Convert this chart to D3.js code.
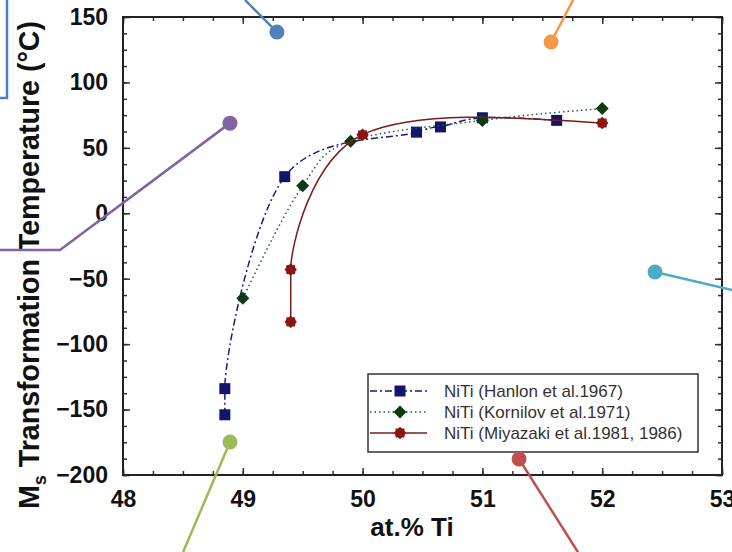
<!DOCTYPE html>
<html>
<head>
<meta charset="utf-8">
<script src="https://cdn.jsdelivr.net/npm/d3@7"></script>
<style>
  body { margin: 0; background: #fff; }
  svg { display: block; font-family: "Liberation Sans", Arial, sans-serif; }
</style>
</head>
<body>
<div class="chart-area"></div>
<script>
// data: at.% Ti vs Ms temperature (°C)
var hanlonX = [48.85, 48.85, 49.35, 50.45, 50.65, 51.0, 51.62],
    hanlonY = [-154, -134, 28, 62, 66, 73, 71];
var kornilovX = [49.0, 49.5, 49.9, 51.0, 52.0],
    kornilovY = [-65, 21, 55, 71, 80];
var miyazakiX = [49.4, 49.4, 50.0, 52.0],
    miyazakiY = [-83, -43, 60, 69];

var seriesNames = ["NiTi (Hanlon et al.1967)", "NiTi (Kornilov et al.1971)", "NiTi (Miyazaki et al.1981, 1986)"];
var xTicks = [48, 49, 50, 51, 52, 53],
    yTicks = [-200, -150, -100, -50, 0, 50, 100, 150];

// callout pointers laid over the figure, given in axis units
var calloutColors = ["#4f81bd", "#f79646", "#8064a2", "#4bacc6", "#9bbb59", "#c0504d"];
var calloutDots = [[49.285, 138.5], [51.573, 130.9], [48.893, 68.9], [52.441, -44.9], [48.893, -174.8], [51.306, -187.8]];
var calloutEnds = [[[49.018, 163]], [[51.757, 163]], [[47.474, -28], [46.97, -28]], [[53.09, -58.7]], [[48.501, -259]], [[51.798, -259]]];

var width = 732,
    height = 552,
    plotLeft = 123, plotRight = 722, plotTop = 17, plotBottom = 475;

var x = d3.scaleLinear().domain([48, 53]).range([plotLeft, plotRight]),
    y = d3.scaleLinear().domain([-200, 150]).range([plotBottom, plotTop]);

var svg = d3.select(".chart-area")
            .append("svg")
            .attr("width", width)
            .attr("height", height);

// minor ticks on all four sides
var xMinor = d3.range(48, 53.01, 0.25),
    yMinor = d3.range(-200, 150.01, 12.5);

function axisStyle(g) {
  g.select(".domain").remove();
  g.selectAll(".tick line").attr("stroke", "#333").attr("stroke-width", 1.5);
}

svg.append("g").attr("transform", "translate(0," + plotBottom + ")")
   .call(d3.axisBottom(x).tickValues(xMinor).tickSizeInner(-4).tickFormat(""))
   .call(axisStyle);
svg.append("g").attr("transform", "translate(0," + plotTop + ")")
   .call(d3.axisTop(x).tickValues(xMinor).tickSizeInner(-4).tickFormat(""))
   .call(axisStyle);
svg.append("g").attr("transform", "translate(" + plotLeft + ",0)")
   .call(d3.axisLeft(y).tickValues(yMinor).tickSizeInner(-4).tickFormat(""))
   .call(axisStyle);
svg.append("g").attr("transform", "translate(" + plotRight + ",0)")
   .call(d3.axisRight(y).tickValues(yMinor).tickSizeInner(-4).tickFormat(""))
   .call(axisStyle);

// major ticks + labels
svg.append("g").attr("class", "x-axis")
   .attr("transform", "translate(0," + plotBottom + ")")
   .call(d3.axisBottom(x).tickValues(xTicks).tickSizeInner(-7).tickSizeOuter(0).tickPadding(16).tickFormat(d3.format("d")))
   .call(axisStyle);
svg.append("g").attr("transform", "translate(0," + plotTop + ")")
   .call(d3.axisTop(x).tickValues(xTicks).tickSizeInner(-7).tickFormat(""))
   .call(axisStyle);
svg.append("g").attr("class", "y-axis")
   .attr("transform", "translate(" + plotLeft + ",0)")
   .call(d3.axisLeft(y).tickValues(yTicks).tickSizeInner(-7).tickSizeOuter(0).tickPadding(15).tickFormat(d3.format("d")))
   .call(axisStyle);
svg.append("g").attr("transform", "translate(" + plotRight + ",0)")
   .call(d3.axisRight(y).tickValues(yTicks).tickSizeInner(-7).tickFormat(""))
   .call(axisStyle);

svg.selectAll(".x-axis text, .y-axis text")
   .attr("font-size", 23)
   .attr("font-weight", "bold")
   .attr("fill", "#111")
   .attr("font-family", "'Liberation Sans', Arial, sans-serif");

// plot frame
svg.append("rect")
   .attr("x", plotLeft).attr("y", plotTop)
   .attr("width", plotRight - plotLeft).attr("height", plotBottom - plotTop)
   .attr("fill", "none")
   .attr("stroke", "#222")
   .attr("stroke-width", 2);

// axis titles
var yTitle = svg.append("text")
   .attr("transform", "translate(39,509) rotate(-90)")
   .attr("font-size", 28.6)
   .attr("font-weight", "bold")
   .attr("fill", "#111");
yTitle.append("tspan").text("M");
yTitle.append("tspan").attr("font-size", 18).attr("dy", 7).text("s");
yTitle.append("tspan").attr("dy", -7).text(" Transformation Temperature (°C)");

svg.append("text")
   .attr("x", 412)
   .attr("y", 536)
   .attr("text-anchor", "middle")
   .attr("font-size", 26)
   .attr("font-weight", "bold")
   .attr("fill", "#111")
   .text("at.% Ti");

// series
var series = [
  { xs: hanlonX, ys: hanlonY, line: "#1b1b7a", dash: "7,3,2,3", fill: "#14146e", shape: "square" },
  { xs: kornilovX, ys: kornilovY, line: "#1f5f45", dash: "1.5,3", fill: "#0e3a12", shape: "diamond" },
  { xs: miyazakiX, ys: miyazakiY, line: "#7a1c1c", dash: null, fill: "#8e1414", shape: "gear" }
];

// Catmull-Rom through scaled points; a pair with equal x is joined
// straight and the curve leaves it vertically
function smoothPath(pts) {
  var n = pts.length, T = new Array(n);
  for (var i = 1; i < n - 1; i++) {
    if (pts[i][0] == pts[i - 1][0]) T[i] = [0, (pts[i + 1][1] - pts[i][1]) * 0.5];
    else T[i] = [(pts[i + 1][0] - pts[i - 1][0]) / 2, (pts[i + 1][1] - pts[i - 1][1]) / 2];
  }
  // natural-style end tangents
  T[0] = [(3 * (pts[1][0] - pts[0][0]) - T[1][0]) / 2, (3 * (pts[1][1] - pts[0][1]) - T[1][1]) / 2];
  T[n - 1] = [(3 * (pts[n - 1][0] - pts[n - 2][0]) - T[n - 2][0]) / 2,
              (3 * (pts[n - 1][1] - pts[n - 2][1]) - T[n - 2][1]) / 2];
  var p = d3.path();
  p.moveTo(pts[0][0], pts[0][1]);
  for (var j = 0; j < n - 1; j++) {
    var a = pts[j], b = pts[j + 1];
    if (a[0] == b[0]) { p.lineTo(b[0], b[1]); continue; }
    p.bezierCurveTo(a[0] + T[j][0] / 3, a[1] + T[j][1] / 3,
                    b[0] - T[j + 1][0] / 3, b[1] - T[j + 1][1] / 3,
                    b[0], b[1]);
  }
  return p.toString();
}

function gearPath(r) {
  var pts = [];
  for (var i = 0; i < 16; i++) {
    var a = i * Math.PI / 8, rr = i % 2 ? r * 0.8 : r;
    pts.push([rr * Math.cos(a), rr * Math.sin(a)]);
  }
  return "M" + pts.join("L") + "Z";
}

function markerPath(shape) {
  if (shape == "square") return "M-5.5,-5.5H5.5V5.5H-5.5Z";
  if (shape == "diamond") return "M0,-6.5L6.5,0L0,6.5L-6.5,0Z";
  return gearPath(6.2);
}

series.forEach(function(s) {
  var pts = s.xs.map(function(v, i) { return [v, s.ys[i]] });
  svg.append("path")
     .attr("d", smoothPath(pts.map(function(d) { return [x(d[0]), y(d[1])] })))
     .attr("fill", "none")
     .attr("stroke", s.line)
     .attr("stroke-width", 1.5)
     .attr("stroke-dasharray", s.dash);
  svg.selectAll(null)
     .data(pts)
     .enter()
     .append("path")
     .attr("d", markerPath(s.shape))
     .attr("transform", function(d) { return "translate(" + x(d[0]) + "," + y(d[1]) + ")" })
     .attr("fill", s.fill);
});

// legend
var legend = svg.append("g");
legend.append("rect")
   .attr("x", 368).attr("y", 374)
   .attr("width", 330).attr("height", 78)
   .attr("fill", "#fff")
   .attr("stroke", "#333")
   .attr("stroke-width", 1.5);

series.forEach(function(s, i) {
  var ly = 391 + i * 21;
  legend.append("line")
     .attr("x1", 370).attr("x2", 427)
     .attr("y1", ly).attr("y2", ly)
     .attr("stroke", s.line)
     .attr("stroke-width", 1.5)
     .attr("stroke-dasharray", s.dash);
  legend.append("path")
     .attr("d", markerPath(s.shape))
     .attr("transform", "translate(400," + ly + ")")
     .attr("fill", s.fill);
  legend.append("text")
     .attr("x", 444)
     .attr("y", ly)
     .attr("dy", "0.35em")
     .attr("font-size", 17)
     .attr("fill", "#333")
     .text(seriesNames[i]);
});

// blue frame corner at top-left
svg.append("path")
   .attr("d", "M7,-2V98H-2")
   .attr("fill", "none")
   .attr("stroke", calloutColors[0])
   .attr("stroke-width", 2.5);

// callout pointers
calloutDots.forEach(function(d, i) {
  var pts = [d].concat(calloutEnds[i]);
  svg.append("path")
     .attr("d", d3.line().x(function(p) { return x(p[0]) }).y(function(p) { return y(p[1]) })(pts))
     .attr("fill", "none")
     .attr("stroke", calloutColors[i])
     .attr("stroke-width", 2.5);
  svg.append("circle")
     .attr("cx", x(d[0]))
     .attr("cy", y(d[1]))
     .attr("r", 7.5)
     .attr("fill", calloutColors[i]);
});
</script>
</body>
</html>
